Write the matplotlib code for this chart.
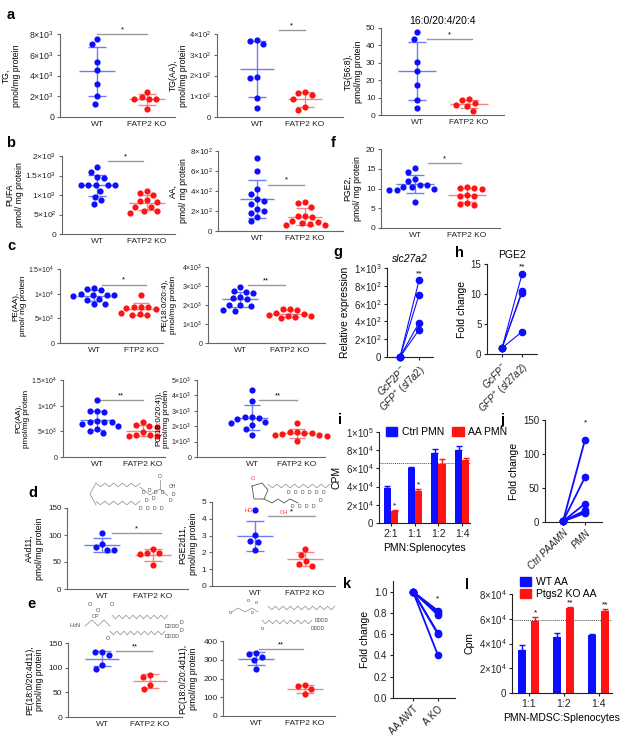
import numpy as np
import matplotlib
matplotlib.use('Agg')
import matplotlib.pyplot as plt
from matplotlib.patches import Patch

plt.rcParams['font.family'] = ['Liberation Sans', 'DejaVu Sans']
plt.rcParams['mathtext.fontset'] = 'custom'
plt.rcParams['mathtext.rm'] = 'Liberation Sans'
plt.rcParams['mathtext.it'] = 'Liberation Sans:italic'
plt.rcParams['mathtext.bf'] = 'Liberation Sans:bold'

# ---------------- data ----------------
groups = ['WT', 'FATP2 KO']

tg_wt = [7500, 7000, 5300, 4500, 3200, 2000, 1300]
tg_ko = [2400, 1900, 1700, 1700, 1700, 800]
tgaa_wt = [370, 365, 350, 195, 190, 90, 45]
tgaa_ko = [120, 118, 105, 88, 50, 33]
tg568_wt = [47.5, 43.5, 30.5, 25.5, 17.5, 8.5, 4]
tg568_ko = [9.2, 8.7, 6.9, 5.6, 5.0, 2.5]

pufa_wt = [1720, 1600, 1450, 1430, 1260, 1260, 1260, 1260, 1250, 1100, 960, 870, 770]
pufa_ko = [1100, 1060, 1000, 870, 850, 830, 700, 690, 600, 590, 550]
aa_wt = [730, 600, 420, 370, 320, 300, 270, 220, 200, 180, 140, 100]
aa_ko = [290, 280, 240, 150, 150, 140, 100, 90, 80, 70, 60, 60]
pge2_wt = [15.2, 14.3, 12.5, 12.0, 11.0, 10.8, 10.5, 10.5, 10.0, 9.5, 9.5, 6.7]
pge2_ko = [10.4, 10.2, 10.1, 10.0, 8.3, 8.2, 8.2, 6.3, 6.0, 5.8]

peaa_wt = [11200, 10900, 10800, 10000, 9800, 9700, 9700, 9600, 9000, 8800, 8000, 7900]
peaa_ko = [9800, 7300, 7300, 7200, 7100, 6900, 6000, 5800, 5700, 5600]
pe184_wt = [2950, 2750, 2700, 2650, 2400, 2350, 2300, 2000, 2000, 1950, 1750, 1700]
pe184_ko = [1800, 1780, 1750, 1600, 1550, 1450, 1420, 1400, 1350, 1300]
pcaa_wt = [11100, 9000, 8900, 8700, 7000, 6900, 6800, 6800, 6500, 6000, 5500, 5000, 4700]
pcaa_ko = [6800, 6200, 6000, 5900, 4800, 4300, 4200, 4100, 4000]
pc184_wt = [4350, 3650, 2600, 2600, 2550, 2500, 2250, 2200, 2100, 1850, 1400]
pc184_ko = [2200, 1650, 1600, 1550, 1550, 1500, 1450, 1400, 1350, 1050]

aad11_wt = [104, 84, 77, 73, 72]
aad11_ko = [75, 66, 66, 65, 44]
pge2d11_wt = [4.5, 3.05, 2.7, 2.6, 2.15]
pge2d11_ko = [2.22, 1.83, 1.49, 1.3, 1.19]
ped11_wt = [132, 131, 125, 106, 98]
ped11_ko = [86, 82, 65, 56]
pcd11_wt = [338, 330, 313, 300, 250]
pcd11_ko = [163, 158, 142, 118]

g_before = [1, 1, 1, 1]
g_after = [860, 700, 385, 305]
h_before = [1, 1, 1, 1]
h_after = [13.3, 10.5, 10.2, 3.7]
j_before = [1, 1, 1, 1, 1, 1]
j_after = [121, 66, 27, 17, 15, 13]
k_before = [1, 1, 1, 1, 1, 1]
k_after = [0.82, 0.80, 0.78, 0.61, 0.60, 0.40]

i_ratios = ['2:1', '1:1', '1:2', '1:4']
i_ctrl = [38000, 60000, 77000, 80000]
i_ctrl_err = [3000, 1000, 4000, 5000]
i_aa = [13000, 35000, 65000, 69000]
i_aa_err = [1500, 2500, 5000, 2000]
i_ref = 66000

l_ratios = ['1:1', '1:2', '1:4']
l_wt = [35000, 45000, 46500]
l_wt_err = [3500, 3500, 1500]
l_ko = [58000, 68500, 66000]
l_ko_err = [3500, 1000, 1500]
l_ref = 59000

# ---------------- drawing ----------------
W, H = 628, 742
BLUE = '#0d0dff'
RED = '#ff1414'
BLUE_L = '#6f7cf2'
RED_L = '#f58585'

fig = plt.figure(figsize=(W / 100, H / 100), dpi=100)


def add_ax(l, t, r, b):
    return fig.add_axes([l / W, 1 - b / H, (r - l) / W, (b - t) / H])


def sci(v):
    if v == 0:
        return '0'
    e = int(np.floor(np.log10(v) + 1e-9))
    m = v / 10 ** e
    return r'$%s{\times}10^{%d}$' % ('%g' % m, e)


def plain(v):
    return '%g' % v


def style(ax, col, fs, xfs=None):
    for s in ['top', 'right']:
        ax.spines[s].set_visible(False)
    for s in ['left', 'bottom']:
        ax.spines[s].set_color(col)
        ax.spines[s].set_linewidth(0.8)
    ax.tick_params(axis='y', length=2.5, width=0.8, color=col, labelsize=fs, pad=1.5, labelcolor='#222222')
    ax.tick_params(axis='x', length=0, labelsize=xfs or fs, pad=3, labelcolor='#222222')
    ax.patch.set_alpha(0)


def swarm(ypx, d):
    # compact beeswarm in pixel units
    order = np.argsort(-ypx)
    off = np.zeros(len(ypx))
    placed = []
    for idx in order:
        y = ypx[idx]
        cands = [0.0]
        for px, py in placed:
            dy = abs(py - y)
            if dy < d:
                dx = np.sqrt(d * d - dy * dy)
                cands += [px + dx, px - dx]
        cands.sort(key=lambda c: (round(abs(c), 3), c))
        for c in cands:
            if all((c - px) ** 2 + (y - py) ** 2 >= d * d - 1e-6 for px, py in placed):
                off[idx] = c
                break
        placed.append((off[idx], y))
    return off


def dot_panel(box, cpx, wt, ko, ymax, ticks, ylabel, tfs, lpad, sig, fmt=sci, xlabels=groups, lfs=6.2):
    l, t, r, b = box
    ax = add_ax(l, t, r, b)
    unit = cpx[1] - cpx[0]
    ax.set_xlim((l - cpx[0]) / unit, (r - cpx[0]) / unit)
    ax.set_ylim(0, ymax)
    pxy = (b - t) / ymax
    for i, (vals, dot, bar) in enumerate([(wt, BLUE, BLUE_L), (ko, RED, RED_L)]):
        v = np.asarray(vals, float)
        xs = i + swarm(v * pxy, 7.5) / unit
        m, sd = v.mean(), v.std(ddof=1)
        kw = dict(color=bar, lw=1, zorder=2, solid_capstyle='butt')
        ax.plot([i - 0.36, i + 0.36], [m, m], **kw)
        ax.plot([i, i], [m - sd, m + sd], **kw)
        ax.plot([i - 0.18, i + 0.18], [m + sd, m + sd], **kw)
        ax.plot([i - 0.18, i + 0.18], [m - sd, m - sd], **kw)
        ax.scatter(xs, v, s=20, color=dot, lw=0, zorder=3, clip_on=False)
    x0, x1, y, txt = sig
    ax.plot([x0, x1], [y, y], color='#999999', lw=1, clip_on=False)
    ax.text((x0 + x1) / 2, y + ymax * 0.01, txt, ha='center', va='bottom', fontsize=5.5)
    ax.set_xticks([0, 1])
    ax.set_xticklabels(xlabels)
    ax.set_yticks(ticks)
    ax.set_yticklabels([fmt(v) for v in ticks])
    ax.set_ylabel(ylabel, fontsize=lfs, linespacing=1.15, labelpad=lpad)
    style(ax, '#666666', tfs, 6.0)
    return ax


# panel a
dot_panel((60, 34, 175, 117), (97, 147), tg_wt, tg_ko, 8000, [0, 2000, 4000, 6000, 8000],
          'TG,\npmol/mg protein', 6.3, 6, (0.0, 1.0, 8000, '*'))
dot_panel((217, 34, 343, 117), (257, 305), tgaa_wt, tgaa_ko, 400, [0, 100, 200, 300, 400],
          'TG(AA),\npmol/mg protein', 5.6, 1, (0.45, 1.0, 420, '*'))
ax = dot_panel((381, 28, 504, 115), (417, 469), tg568_wt, tg568_ko, 50, [0, 10, 20, 30, 40, 50],
               'TG(56:8),\npmol/mg protein', 6.0, 2, (0.2, 1.05, 43.5, '*'), fmt=plain)
ax.set_title('16:0/20:4/20:4', fontsize=7.5, pad=3)

# panel b / f
dot_panel((62, 156, 175, 234), (97, 147), pufa_wt, pufa_ko, 2000, [0, 500, 1000, 1500, 2000],
          'PUFA\npmol/ mg protein', 6.0, 1, (0.22, 0.92, 1880, '*'))
dot_panel((218, 151, 343, 231), (257, 305), aa_wt, aa_ko, 800, [0, 200, 400, 600, 800],
          'AA,\npmol/ mg protein', 5.8, 1, (0.23, 0.98, 464, '*'))
dot_panel((381, 149, 500, 228), (415, 467), pge2_wt, pge2_ko, 20, [0, 5, 10, 15, 20],
          'PGE2,\npmol/ mg protein', 6.0, 2.5, (0.25, 0.88, 16.5, '*'), fmt=plain)

# panel c
dot_panel((60, 269, 163, 343), (94, 141), peaa_wt, peaa_ko, 15000, [0, 5000, 10000, 15000],
          'PE(AA),\npmol/ mg protein', 5.0, 1, (0.17, 1.1, 11850, '*'), xlabels=['WT', 'FTP2 KO'], lfs=5.9)
dot_panel((208, 267, 325, 343), (240, 290), pe184_wt, pe184_ko, 4000, [0, 1000, 2000, 3000, 4000],
          'PE(18:0/20:4),\npmol/mg protein', 5.0, 4, (0.15, 0.9, 3030, '**'), lfs=5.9)
dot_panel((63, 380, 165, 457), (97, 143), pcaa_wt, pcaa_ko, 15000, [0, 5000, 10000, 15000],
          'PC(AA),\npmol/mg protein', 5.0, 1, (0.06, 1.0, 11100, '**'), lfs=5.9)
dot_panel((197, 380, 325, 457), (252, 297), pc184_wt, pc184_ko, 5000, [0, 1000, 2000, 3000, 4000, 5000],
          'PC(18:0/20:4)),\npmol/mg protein', 5.0, 1, (0.15, 1.0, 3700, '**'), lfs=5.9)

# panel d / e
dot_panel((67, 508, 188, 589), (102, 153), aad11_wt, aad11_ko, 150, [0, 50, 100, 150],
          'AAd11,\npmol/mg protein', 5.8, 3, (0.2, 1.15, 104, '*'), fmt=plain)
dot_panel((212, 502, 335, 586), (255, 305), pge2d11_wt, pge2d11_ko, 5, [0, 1, 2, 3, 4, 5],
          'PGE2d11,\npmol/mg protein', 6.0, 3, (0.25, 1.2, 4.15, '*'), fmt=plain)
dot_panel((68, 643, 182, 717), (102, 150), ped11_wt, ped11_ko, 150, [0, 50, 100, 150],
          'PE(18:0/20:4d11),\npmol/mg protein', 6.0, 3, (0.3, 1.05, 133, '**'), fmt=plain)
dot_panel((223, 641, 335, 716), (256, 305), pcd11_wt, pcd11_ko, 400, [0, 100, 200, 300, 400],
          'PC(18:0/20:4d11),\npmol/mg protein', 6.0, 4, (0.06, 0.95, 357, '**'), fmt=plain)


def pair_panel(box, cpx, before, after, ylim, ticks, fmt, ylabel, xlabels, star,
               title=None, title_it=False, lw=1.0, italic=True):
    l, t, r, b = box
    ax = add_ax(l, t, r, b)
    unit = cpx[1] - cpx[0]
    ax.set_xlim((l - cpx[0]) / unit, (r - cpx[0]) / unit)
    ax.set_ylim(*ylim)
    for y0, y1 in zip(before, after):
        ax.plot([0, 1], [y0, y1], color=BLUE, lw=lw, marker='o', ms=4.5,
                mec=BLUE, mfc=BLUE, zorder=3, clip_on=False)
    ax.text(1, star[0], star[1], ha='center', va='bottom', fontsize=6)
    ax.set_xticks([0, 1])
    ax.set_xticklabels(xlabels, rotation=45, ha='right', rotation_mode='anchor',
                       fontstyle='italic' if italic else 'normal')
    ax.set_yticks(ticks)
    ax.set_yticklabels([fmt(v) for v in ticks])
    ax.set_ylabel(ylabel, fontsize=7.5, labelpad=3)
    style(ax, '#222222', 7)
    ax.tick_params(axis='x', length=2.5, width=0.8, color='#222222', pad=2)
    if title:
        ax.set_title(title, fontsize=7.5, pad=4, fontstyle='italic' if title_it else 'normal')
    return ax


pair_panel((387, 268, 433, 357), (400, 419), g_before, g_after, (0, 1000),
           [0, 200, 400, 600, 800, 1000], sci, 'Relative expression',
           [r'$\mathit{GcF2P^{-}}$', r'$\mathit{GFP^{+}\ (sl7a2)}$'], (900, '**'),
           title='slc27a2', title_it=True, lw=0.8)
pair_panel((487, 264, 537, 354), (502, 522), h_before, h_after, (0, 15),
           [0, 5, 10, 15], plain, 'Fold change',
           [r'$\mathit{GcFP^{-}}$', r'$\mathit{GFP^{+}\ (sl27a2)}$'], (14.0, '**'),
           title='PGE2', lw=0.8)
pair_panel((545, 420, 602, 522), (563, 585), j_before, j_after, (0, 150),
           [0, 50, 100, 150], plain, 'Fold change', ['Ctrl PAAMN', 'PMN'], (140, '*'), lw=1.3)
pair_panel((393, 581, 455, 698), (413, 438), k_before, k_after, (0, 1.1),
           [0, 0.2, 0.4, 0.6, 0.8, 1.0], lambda v: '%.1f' % v, 'Fold change',
           ['AA AWT', 'A KO'], (0.9, '*'), lw=1.3, italic=False)


def bar_panel(box, c0, step, cats, a, a_err, b_, b_err, ref, ymax, ticks, ylabel, xlabel,
              width, off, stars, names, leg_xy, ncol):
    l, t, r, bt = box
    ax = add_ax(l, t, r, bt)
    ax.set_xlim((l - c0) / step, (r - c0) / step)
    ax.set_ylim(0, ymax)
    x = np.arange(len(cats))
    for xx, vals, err, col in [(x - off, a, a_err, BLUE), (x + off, b_, b_err, RED)]:
        ax.bar(xx, vals, width=width, color=col, zorder=2)
        ax.errorbar(xx, vals, yerr=[np.zeros(len(vals)), err], fmt='none', ecolor=col,
                    elinewidth=1, capsize=2, capthick=1, zorder=2)
    ax.axhline(ref, color='#555555', lw=0.7, ls=(0, (1, 1)), zorder=1)
    for k, txt in stars:
        ax.text(x[k] + off, b_[k] + b_err[k] + ymax * 0.01, txt, ha='center', va='bottom', fontsize=6)
    ax.set_xticks(x)
    ax.set_xticklabels(cats)
    ax.set_yticks(ticks)
    ax.set_yticklabels([sci(v) for v in ticks])
    ax.set_ylabel(ylabel, fontsize=7.5, labelpad=3)
    ax.set_xlabel(xlabel, fontsize=7.5, labelpad=3)
    style(ax, '#222222', 7)
    ax.tick_params(axis='x', length=2.5, width=0.8, color='#222222', pad=2, labelsize=7.5)
    handles = [Patch(color=BLUE, label=names[0]), Patch(color=RED, label=names[1])]
    fig.legend(handles=handles, loc='upper left', bbox_to_anchor=(leg_xy[0] / W, 1 - leg_xy[1] / H),
               ncol=ncol, frameon=False, fontsize=7.5, handlelength=1.1, handleheight=1.0,
               handletextpad=0.4, columnspacing=0.8, borderpad=0, borderaxespad=0, labelspacing=0.15)
    return ax


bar_panel((379, 432, 470, 523), 391, 23.7, i_ratios, i_ctrl, i_ctrl_err, i_aa, i_aa_err, i_ref,
          100000, [0, 20000, 40000, 60000, 80000, 100000], 'CPM', 'PMN:Splenocytes',
          0.3, 0.15, [(0, '*'), (1, '*')], ['Ctrl PMN', 'AA PMN'], (386, 427), 2)
bar_panel((512, 594, 612, 693), 528.5, 35, l_ratios, l_wt, l_wt_err, l_ko, l_ko_err, l_ref,
          80000, [0, 20000, 40000, 60000, 80000], 'Cpm', 'PMN-MDSC:Splenocytes',
          0.23, 0.19, [(0, '*'), (1, '**'), (2, '**')], ['WT AA', 'Ptgs2 KO AA'], (520, 577), 1)

# ---------------- overlay: panel letters and structure sketches ----------------
ov = fig.add_axes([0, 0, 1, 1])
ov.set_xlim(0, W)
ov.set_ylim(H, 0)
ov.axis('off')
ov.patch.set_alpha(0)

for s, (x, y) in {'a': (11, 15), 'b': (11, 143), 'c': (11, 246), 'd': (33, 493), 'e': (32, 604),
                  'f': (333, 143), 'g': (338, 252), 'h': (459, 253), 'i': (340, 420),
                  'j': (502, 420), 'k': (347, 584), 'l': (467, 585)}.items():
    ov.text(x, y, s, fontsize=10.5, fontweight='bold', ha='center', va='center')

SC = '#8a8a8a'


def zig(x0, x1, y, n, amp=1.8):
    xs = np.linspace(x0, x1, n + 1)
    ys = y + np.where(np.arange(n + 1) % 2 == 0, -amp, amp)
    ov.plot(xs, ys, color=SC, lw=0.5)


def lab(pts, s, col='#444444', fs=3.6):
    for x, y in pts:
        ov.text(x, y, s, fontsize=fs, color=col, ha='center', va='center')


# AA-d11
zig(96, 140, 485, 10)
zig(96, 140, 503, 10)
ov.plot([96, 90, 96], [483, 494, 505], color=SC, lw=0.5)
ov.plot([140, 150, 160, 168], [487, 495, 489, 496], color=SC, lw=0.5)
ov.plot([160, 160], [489, 480], color=SC, lw=0.5)
lab([(143, 492), (149, 490), (155, 492), (162, 492), (146, 500), (153, 498), (170, 500),
     (140, 509), (147, 509), (154, 509), (161, 509), (173, 495)], 'D')
lab([(160, 477)], 'O')
lab([(172, 487)], 'OH')

# PGE2-d11
ov.plot([252, 262, 268, 264, 254, 252], [486, 483, 490, 499, 499, 486], color='#555555', lw=0.6)
zig(268, 330, 486, 14)
ov.plot([264, 272, 278, 284, 290, 298], [499, 503, 499, 503, 499, 503], color='#555555', lw=0.6)
lab([(253, 479)], 'O', col='#ff3030', fs=4)
lab([(249, 510)], 'HO', col='#ff3030', fs=4)
lab([(284, 512)], 'OH', col='#ff3030', fs=4)
lab([(288, 492), (295, 492), (302, 492), (309, 492), (316, 492), (323, 492),
     (292, 507), (299, 507), (306, 507), (313, 507), (320, 500)], 'D')

# PE-d11
zig(112, 168, 617, 16)
zig(110, 165, 633, 16)
ov.plot([85, 92, 98, 104, 110], [626, 620, 626, 620, 626], color=SC, lw=0.5)
lab([(75, 626)], r'H$_2$N', fs=4)
lab([(90, 604), (98, 610), (112, 605), (108, 638)], 'O', fs=4)
lab([(95, 617)], 'OP', fs=3.8)
lab([(172, 626), (172, 636)], 'DDDD', fs=3.8)
lab([(182, 622), (182, 630)], 'D', fs=3.8)

# PC-d11
zig(268, 335, 608, 18)
zig(262, 312, 622, 14)
ov.plot([232, 238, 245, 252, 258], [612, 608, 612, 608, 612], color=SC, lw=0.5)
lab([(230, 612), (248, 600), (256, 602), (252, 613), (262, 628)], 'o', fs=3.8)
lab([(322, 620), (318, 629)], 'DDDD', fs=3.5)

fig.savefig('out.png', dpi=100)
